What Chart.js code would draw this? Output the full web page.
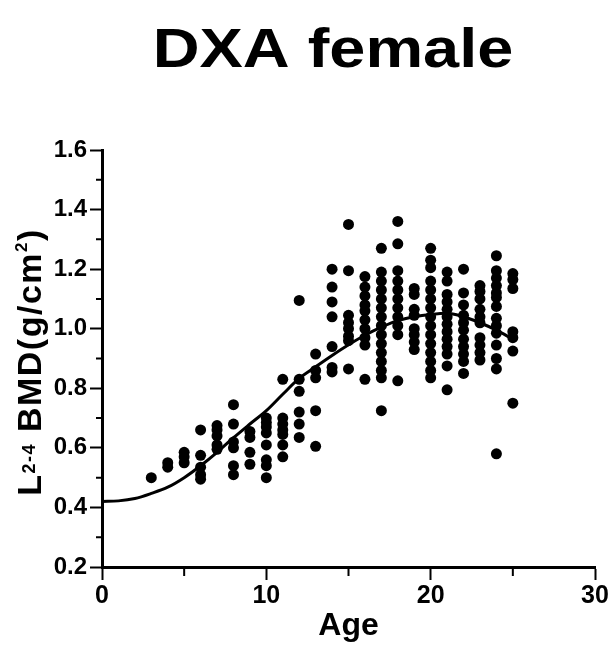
<!DOCTYPE html>
<html>
<head>
<meta charset="utf-8">
<script src="https://cdn.jsdelivr.net/npm/chart.js@4.4.1/dist/chart.umd.min.js"></script>
<style>
  html, body { margin: 0; padding: 0; background: #fff; }
  #wrap { width: 612px; height: 647px; }
</style>
</head>
<body>
<div id="wrap"><canvas id="chart-dxa-female" width="612" height="647"></canvas></div>
<script>
const chartTitle = 'DXA female';
const xAxisTitle = 'Age';

// ages of the scatter columns
const ages = [3, 4, 5, 6, 7, 8, 9, 10, 11, 12, 13, 14, 15, 16, 17, 18, 19, 20, 21, 22, 23, 24, 25];

// L2-4 BMD values (g/cm2) for each age column
const bmdByAge = [
  [0.50],
  [0.55, 0.535],
  [0.585, 0.57, 0.55],
  [0.66, 0.575, 0.535, 0.51, 0.495],
  [0.675, 0.66, 0.64, 0.61, 0.595],
  [0.745, 0.68, 0.62, 0.60, 0.54, 0.51],
  [0.655, 0.635, 0.585, 0.545],
  [0.70, 0.685, 0.67, 0.65, 0.61, 0.56, 0.54, 0.50],
  [0.83, 0.70, 0.68, 0.66, 0.645, 0.61, 0.57],
  [1.095, 0.83, 0.79, 0.72, 0.68, 0.635],
  [0.915, 0.86, 0.835, 0.725, 0.605],
  [1.20, 1.14, 1.09, 1.04, 0.94, 0.87, 0.855],
  [1.35, 1.195, 1.045, 1.02, 1.0, 0.975, 0.96, 0.865],
  [1.175, 1.14, 1.11, 1.08, 1.06, 1.03, 1.0, 0.97, 0.945, 0.83],
  [1.27, 1.19, 1.16, 1.13, 1.10, 1.07, 1.04, 1.01, 0.98, 0.95, 0.92, 0.89, 0.86, 0.835, 0.725],
  [1.36, 1.285, 1.195, 1.16, 1.13, 1.10, 1.07, 1.04, 1.01, 0.98, 0.825],
  [1.135, 1.115, 1.065, 1.045, 1.0, 0.98, 0.955, 0.93],
  [1.27, 1.23, 1.205, 1.16, 1.13, 1.10, 1.07, 1.04, 1.01, 0.98, 0.95, 0.92, 0.89, 0.86, 0.835],
  [1.19, 1.16, 1.115, 1.09, 1.065, 1.04, 1.015, 0.99, 0.965, 0.94, 0.915, 0.875, 0.795],
  [1.20, 1.12, 1.08, 1.045, 1.02, 0.995, 0.965, 0.94, 0.915, 0.89, 0.85],
  [1.145, 1.125, 1.10, 1.065, 1.04, 1.02, 0.97, 0.945, 0.92, 0.895],
  [1.245, 1.195, 1.17, 1.145, 1.12, 1.105, 1.075, 1.035, 1.01, 0.985, 0.945, 0.90, 0.865, 0.58],
  [1.185, 1.165, 1.135, 0.99, 0.97, 0.925, 0.75]
];

// fitted curve
const fitAges = [0, 1, 2, 3, 4, 5, 6, 7, 8, 9, 10, 11, 12, 13, 14, 15, 16, 17, 18, 19, 20, 21, 22, 23, 24, 25];
const fitBmd = [0.42, 0.422, 0.43, 0.447, 0.468, 0.50, 0.54, 0.585, 0.634, 0.68, 0.725, 0.78, 0.833, 0.872, 0.91, 0.946, 0.978, 1.005, 1.027, 1.04, 1.048, 1.052, 1.04, 1.02, 0.995, 0.965];

const scatterPoints = ages.flatMap((a, i) => bmdByAge[i].map(v => ({ x: a, y: v })));
const fitPoints = fitAges.map((a, i) => ({ x: a, y: fitBmd[i] }));

const fontFamily = '"Liberation Sans", Arial, Helvetica, sans-serif';

// title, rotated y label with sub/superscript, and short minor ticks
const decorations = {
  id: 'decorations',
  afterDraw(chart) {
    const ctx = chart.ctx;
    const xs = chart.scales.x;
    const ys = chart.scales.y;

    ctx.save();
    ctx.fillStyle = '#000';
    ctx.textAlign = 'center';
    ctx.textBaseline = 'alphabetic';
    ctx.font = 'bold 55px ' + fontFamily;
    ctx.translate(333, 67);
    ctx.scale(1.18, 1);
    ctx.fillText(chartTitle, 0, 0);
    ctx.restore();

    // y axis title
    const parts = [
      { t: 'L', size: 34, dy: 0 },
      { t: '2-4', size: 18, dy: -6 },
      { t: ' BMD(g/cm', size: 34, dy: 0 },
      { t: '2', size: 17, dy: -14 },
      { t: ')', size: 34, dy: 0 }
    ];
    ctx.save();
    ctx.fillStyle = '#000';
    ctx.textAlign = 'left';
    ctx.textBaseline = 'alphabetic';
    ctx.letterSpacing = '1.5px';
    let total = 0;
    parts.forEach(p => {
      ctx.font = 'bold ' + p.size + 'px ' + fontFamily;
      p.w = ctx.measureText(p.t).width;
      total += p.w;
    });
    ctx.translate(41, 362);
    ctx.rotate(-Math.PI / 2);
    let cx = -total / 2;
    parts.forEach(p => {
      ctx.font = 'bold ' + p.size + 'px ' + fontFamily;
      ctx.fillText(p.t, cx, p.dy);
      cx += p.w;
    });
    ctx.restore();

    // minor ticks
    ctx.save();
    ctx.strokeStyle = '#000';
    ctx.lineWidth = 2;
    ctx.beginPath();
    ys.ticks.forEach(t => {
      if (Math.round(t.value * 10) % 2 === 1) {
        const py = ys.getPixelForValue(t.value);
        ctx.moveTo(ys.right - 6, py);
        ctx.lineTo(ys.right, py);
      }
    });
    xs.ticks.forEach(t => {
      if (t.value % 10 !== 0) {
        const px = xs.getPixelForValue(t.value);
        ctx.moveTo(px, xs.top);
        ctx.lineTo(px, xs.top + 9);
      }
    });
    ctx.stroke();
    ctx.restore();
  }
};

const data = {
  datasets: [
    {
      type: 'line',
      data: fitPoints,
      borderColor: '#000',
      borderWidth: 3,
      pointRadius: 0,
      fill: false,
      cubicInterpolationMode: 'monotone'
    },
    {
      type: 'scatter',
      data: scatterPoints,
      backgroundColor: '#000',
      borderColor: '#000',
      pointRadius: 5.5,
      borderWidth: 0
    }
  ]
};

const configuration = {
  type: 'scatter',
  data: data,
  options: {
    responsive: false,
    animation: false,
    layout: { padding: { top: 150, right: 17, left: 0, bottom: 0 } },
    plugins: {
      legend: { display: false },
      title: { display: false },
      tooltip: { enabled: false }
    },
    scales: {
      x: {
        type: 'linear',
        min: 0,
        max: 30,
        afterFit: scale => { scale.height = 80; },
        ticks: {
          stepSize: 5,
          autoSkip: false,
          maxRotation: 0,
          padding: 1,
          color: '#000',
          font: { family: fontFamily, size: 25, weight: 'bold' },
          callback: v => (v % 10 === 0 ? String(v) : '')
        },
        grid: {
          drawOnChartArea: false,
          tickLength: 13,
          tickWidth: 2,
          tickColor: c => (c.tick && c.tick.value % 10 === 0 ? '#000' : 'rgba(0,0,0,0)')
        },
        border: { color: '#000', width: 3 },
        title: {
          display: true,
          text: xAxisTitle,
          color: '#000',
          font: { family: fontFamily, size: 32, weight: 'bold' },
          padding: { top: 0, bottom: 2 }
        }
      },
      y: {
        type: 'linear',
        min: 0.2,
        max: 1.6,
        afterFit: scale => { scale.width = 102; },
        ticks: {
          stepSize: 0.1,
          autoSkip: false,
          padding: 3,
          color: '#000',
          font: { family: fontFamily, size: 24, weight: 'bold' },
          callback: v => (Math.round(v * 10) % 2 === 0 ? v.toFixed(1) : '')
        },
        grid: {
          drawOnChartArea: false,
          tickLength: 12,
          tickWidth: 2,
          tickColor: c => (c.tick && Math.round(c.tick.value * 10) % 2 === 0 ? '#000' : 'rgba(0,0,0,0)')
        },
        border: { color: '#000', width: 3 }
      }
    }
  },
  plugins: [decorations]
};

new Chart(document.getElementById('chart-dxa-female'), configuration);
</script>
</body>
</html>
